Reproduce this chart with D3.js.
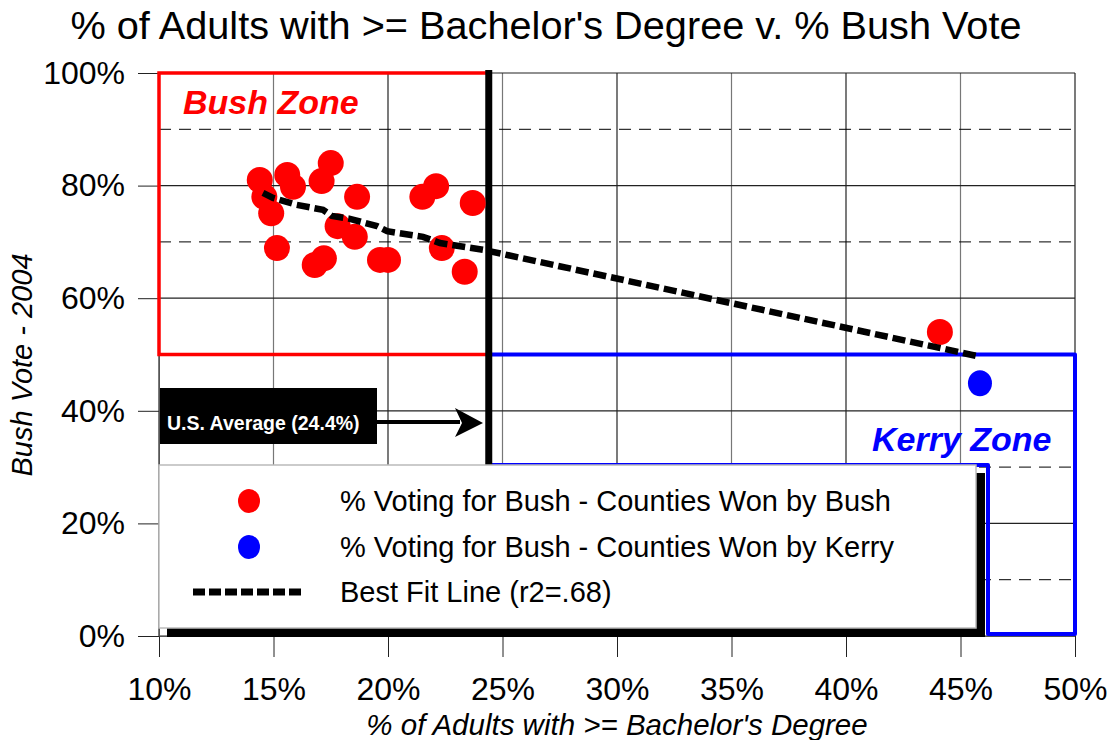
<!DOCTYPE html>
<html>
<head>
<meta charset="utf-8">
<script src="https://cdn.jsdelivr.net/npm/d3@7"></script>
<style>
  body { margin: 0; background: #fff; }
  text { font-family: "Liberation Sans", Arial, sans-serif; }
</style>
</head>
<body>
<div id="chart"></div>
<script>
// counties won by Bush (% with bachelor's, % Bush vote)
const bushX = [14.4, 14.6, 15.6, 15.85, 14.9, 15.15, 17.5, 17.1, 18.65, 17.8, 18.55, 16.8, 17.2, 19.65, 20.0, 21.5, 22.1, 22.35, 23.7, 23.35, 44.1];
const bushY = [81.0, 78.0, 81.9, 79.8, 75.1, 68.9, 84.0, 80.8, 78.0, 72.8, 70.9, 65.9, 67.1, 66.8, 66.8, 78.0, 79.9, 68.9, 76.9, 64.7, 54.0];
// counties won by Kerry
const kerryX = [45.85];
const kerryY = [44.9];
// best fit line
const fitX = [14.54, 14.98, 16.0, 17.16, 17.55, 18.34, 19.52, 19.96, 21.53, 22.27, 24.15, 45.76];
const fitY = [78.7, 77.8, 76.6, 75.7, 74.6, 74.1, 72.8, 71.9, 70.9, 69.8, 68.6, 49.7];

const xTicks = [10, 15, 20, 25, 30, 35, 40, 45, 50];
const yTicks = [0, 20, 40, 60, 80, 100];
const yDashed = [10, 30, 50, 70, 90];
const usAverage = 24.4;
const legendItems = [
  "% Voting for Bush - Counties Won by Bush",
  "% Voting for Bush - Counties Won by Kerry",
  "Best Fit Line (r2=.68)"
];

const width = 1114;
const height = 740;

const svg = d3.select('#chart')
  .append('svg')
  .attr('width', width)
  .attr('height', height);

const x = d3.scaleLinear().domain([10, 50]).range([159, 1075]);
const y = d3.scaleLinear().domain([0, 100]).range([636, 73]);

// title
svg.append('text')
  .attr('x', 546).attr('y', 39)
  .attr('text-anchor', 'middle')
  .attr('font-size', 39.7)
  .text("% of Adults with >= Bachelor's Degree v. % Bush Vote");

// grid
const grid = svg.append('g');
grid.selectAll('line.v')
  .data(xTicks)
  .join('line')
    .attr('x1', d => x(d)).attr('x2', d => x(d))
    .attr('y1', y(100)).attr('y2', y(0))
    .attr('stroke', (d, i) => i % 2 ? '#777' : '#222')
    .attr('stroke-width', 1.2);
grid.selectAll('line.h')
  .data(yTicks)
  .join('line')
    .attr('x1', x(10)).attr('x2', x(50))
    .attr('y1', d => y(d)).attr('y2', d => y(d))
    .attr('stroke', '#222')
    .attr('stroke-width', 1.2);
grid.selectAll('line.d')
  .data(yDashed)
  .join('line')
    .attr('x1', x(10)).attr('x2', x(50))
    .attr('y1', d => y(d)).attr('y2', d => y(d))
    .attr('stroke', '#000')
    .attr('stroke-dasharray', '12,8');

// axes
const xAxis = d3.axisBottom(x).tickValues(xTicks).tickFormat(d => d + '%').tickSize(21).tickSizeOuter(0);
const yAxis = d3.axisLeft(y).tickValues(yTicks).tickFormat(d => d + '%').tickSize(21).tickSizeOuter(0);

svg.append('g')
  .attr('transform', `translate(0, ${y(0)})`)
  .call(xAxis)
  .call(g => g.select('.domain').attr('stroke', '#555'))
  .call(g => g.selectAll('.tick line').attr('stroke', '#222'))
  .call(g => g.selectAll('.tick text').attr('font-size', 32).attr('y', 64).attr('dy', 0).attr('fill', '#000')
    .attr('font-family', '"Liberation Sans", Arial, sans-serif'));

svg.append('g')
  .attr('transform', `translate(${x(10)}, 0)`)
  .call(yAxis)
  .call(g => g.select('.domain').attr('stroke', '#555'))
  .call(g => g.selectAll('.tick line').attr('stroke', '#222'))
  .call(g => g.selectAll('.tick text').attr('font-size', 32).attr('x', -34).attr('fill', '#000')
    .attr('font-family', '"Liberation Sans", Arial, sans-serif'));

// axis titles
svg.append('text')
  .attr('x', 617).attr('y', 735)
  .attr('text-anchor', 'middle')
  .attr('font-size', 29.5)
  .attr('font-style', 'italic')
  .text("% of Adults with >= Bachelor's Degree");

svg.append('text')
  .attr('transform', 'translate(32, 365) rotate(-90)')
  .attr('text-anchor', 'middle')
  .attr('font-size', 29)
  .attr('font-style', 'italic')
  .text('Bush Vote - 2004');

// Bush zone
svg.append('rect')
  .attr('x', x(10)).attr('y', y(100))
  .attr('width', x(usAverage) - x(10))
  .attr('height', y(50) - y(100))
  .attr('fill', 'none')
  .attr('stroke', '#ff0000')
  .attr('stroke-width', 3.5);

svg.append('text')
  .attr('x', 183).attr('y', 114)
  .attr('font-size', 34)
  .attr('font-weight', 'bold')
  .attr('font-style', 'italic')
  .attr('fill', '#ff0000')
  .text('Bush Zone');

// Kerry zone (partly hidden behind the legend)
const kz = d3.path();
kz.moveTo(x(usAverage), y(50));
kz.lineTo(x(50), y(50));
kz.lineTo(x(50), y(0) - 2);
kz.lineTo(988, y(0) - 2);
kz.lineTo(988, 465);
kz.lineTo(x(usAverage), 465);
svg.append('path')
  .attr('d', kz.toString())
  .attr('fill', 'none')
  .attr('stroke', '#0000ff')
  .attr('stroke-width', 4)
  .attr('stroke-linejoin', 'round');

svg.append('text')
  .attr('x', 872).attr('y', 451)
  .attr('font-size', 34)
  .attr('font-weight', 'bold')
  .attr('font-style', 'italic')
  .attr('fill', '#0000ff')
  .text('Kerry Zone');

// US average line
svg.append('line')
  .attr('x1', x(usAverage)).attr('x2', x(usAverage))
  .attr('y1', y(100) - 3).attr('y2', 466)
  .attr('stroke', '#000')
  .attr('stroke-width', 7);

// points
svg.append('g')
  .selectAll('circle')
  .data(bushX.map((d, i) => [d, bushY[i]]))
  .join('circle')
    .attr('cx', d => x(d[0]))
    .attr('cy', d => y(d[1]))
    .attr('r', 13)
    .attr('fill', '#ff0000');

svg.append('g')
  .selectAll('ellipse')
  .data(kerryX.map((d, i) => [d, kerryY[i]]))
  .join('ellipse')
    .attr('cx', d => x(d[0]))
    .attr('cy', d => y(d[1]))
    .attr('rx', 12).attr('ry', 13)
    .attr('fill', '#0000ff');

// best fit line
const line = d3.line().x(d => x(d[0])).y(d => y(d[1]));
svg.append('path')
  .datum(fitX.map((d, i) => [d, fitY[i]]))
  .attr('d', line)
  .attr('fill', 'none')
  .attr('stroke', '#000')
  .attr('stroke-width', 6.5)
  .attr('stroke-dasharray', '13,5');

// legend
const lg = svg.append('g');
lg.append('rect')
  .attr('x', 167).attr('y', 473)
  .attr('width', 985 - 167).attr('height', 637 - 473)
  .attr('fill', '#000');
lg.append('rect')
  .attr('x', 159).attr('y', 465)
  .attr('width', 976 - 159).attr('height', 628 - 465)
  .attr('fill', '#fff')
  .attr('stroke', '#bbb')
  .attr('stroke-width', 1.5);

const rowY = [501, 547, 592];
lg.append('ellipse').attr('cx', 249).attr('cy', rowY[0]).attr('rx', 11).attr('ry', 12).attr('fill', '#ff0000');
lg.append('ellipse').attr('cx', 249).attr('cy', rowY[1]).attr('rx', 11).attr('ry', 12).attr('fill', '#0000ff');
lg.append('line')
  .attr('x1', 193).attr('x2', 304)
  .attr('y1', rowY[2]).attr('y2', rowY[2])
  .attr('stroke', '#000').attr('stroke-width', 7)
  .attr('stroke-dasharray', '12,4');
lg.selectAll('text')
  .data(legendItems)
  .join('text')
    .attr('x', 340)
    .attr('y', (d, i) => rowY[i] + 10)
    .attr('font-size', 29)
    .text(d => d);

// US average callout
svg.append('rect')
  .attr('x', 160).attr('y', 388)
  .attr('width', 217).attr('height', 56)
  .attr('fill', '#000');
svg.append('text')
  .attr('x', 167).attr('y', 430)
  .attr('font-size', 19.5)
  .attr('font-weight', 'bold')
  .attr('fill', '#fff')
  .text('U.S. Average (24.4%)');
svg.append('line')
  .attr('x1', 377).attr('x2', 460)
  .attr('y1', 422).attr('y2', 422)
  .attr('stroke', '#000').attr('stroke-width', 4);
svg.append('path')
  .attr('d', 'M483,423 L455,408 L462,423 L455,437 Z')
  .attr('fill', '#000');
</script>
</body>
</html>
